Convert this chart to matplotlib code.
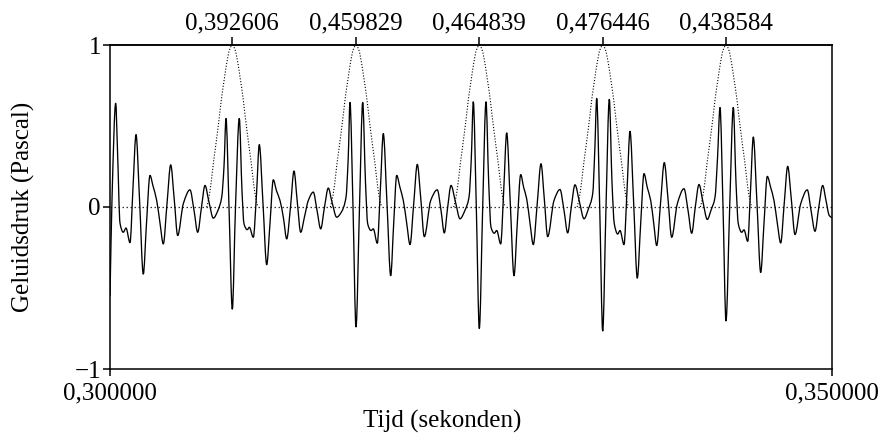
import matplotlib
matplotlib.use('Agg')
import matplotlib.pyplot as plt
from matplotlib.path import Path
from matplotlib.patches import PathPatch
import numpy as np

plt.rcParams['font.family'] = ['Liberation Serif', 'DejaVu Serif']

# waveform samples: time in ms after 0.300 s, pressure in Pascal
seg0_ms = [0.000, 0.139, 0.395, 0.519, 0.693, 0.921, 1.108, 1.385, 1.593, 1.801, 2.043, 2.306,
           2.528, 2.770, 2.978, 3.234, 3.463, 3.691, 3.947, 4.204, 4.446, 4.688, 5.076, 5.540,
           5.817, 6.073, 6.337, 6.579, 6.856, 7.154, 7.479, 7.735, 7.895, 8.033]
seg0_pa = [-0.55, 0.05, 0.64, 0.35, -0.10, -0.156, -0.13, -0.22, 0.12, 0.447, 0.05, -0.414,
           -0.10, 0.195, 0.13, 0.04, -0.10, -0.228, 0.02, 0.26, 0.05, -0.176, 0.02, 0.106,
           -0.02, -0.156, 0.00, 0.133, 0.03, -0.069, -0.02, 0.06, 0.25, 0.546]

seg1_ms = [8.241, 8.470, 8.691, 8.954, 9.141, 9.280, 9.508, 9.647, 9.924, 10.145, 10.339, 10.596,
           10.852, 11.080, 11.309, 11.530, 11.773, 12.015, 12.237, 12.500, 12.742, 12.971, 13.206,
           13.470, 13.733, 14.079, 14.335, 14.591, 14.855, 15.118, 15.374, 15.699, 16.032, 16.343,
           16.496, 16.620]
seg1_pa = [0.00, -0.63, 0.00, 0.546, 0.10, -0.104, -0.14, -0.125, -0.187, 0.08, 0.385, 0.02,
           -0.356, -0.10, 0.168, 0.10, 0.04, -0.07, -0.197, 0.00, 0.222, 0.03, -0.156,
           -0.06, 0.04, 0.092, -0.02, -0.135, 0.00, 0.117, 0.03, -0.063, -0.03, 0.06,
           0.30, 0.645]

seg2_ms = [16.828, 17.036, 17.278, 17.500, 17.694, 17.846, 18.075, 18.234, 18.511, 18.719, 18.927,
           19.183, 19.439, 19.647, 19.855, 20.083, 20.312, 20.547, 20.776, 21.032, 21.281, 21.524,
           21.766, 22.209, 22.666, 22.922, 23.151, 23.386, 23.615, 23.927, 24.238, 24.584, 24.861,
           25.021, 25.159]
seg2_pa = [0.00, -0.74, 0.00, 0.645, 0.15, -0.104, -0.145, -0.135, -0.224, 0.10, 0.453,
           0.02, -0.424, -0.10, 0.195, 0.12, 0.04, -0.10, -0.232, 0.02, 0.263, 0.05,
           -0.183, 0.04, 0.106, -0.02, -0.16, 0.00, 0.133, 0.03, -0.073, -0.02, 0.06,
           0.30, 0.649]

seg3_ms = [25.367, 25.575, 25.810, 26.039, 26.226, 26.385, 26.614, 26.780, 27.057, 27.264, 27.472,
           27.722, 27.978, 28.206, 28.442, 28.649, 28.857, 29.086, 29.314, 29.585, 29.847, 30.076,
           30.311, 30.748, 31.163, 31.440, 31.696, 31.946, 32.202, 32.514, 32.826, 33.137, 33.428,
           33.573, 33.705]
seg3_pa = [0.00, -0.75, 0.00, 0.649, 0.15, -0.125, -0.162, -0.145, -0.228, 0.10, 0.457,
           0.02, -0.424, -0.10, 0.20, 0.12, 0.05, -0.10, -0.232, 0.02, 0.267, 0.05,
           -0.183, 0.04, 0.108, -0.02, -0.16, 0.00, 0.137, 0.03, -0.073, -0.01, 0.082,
           0.35, 0.67]

seg4_ms = [33.913, 34.120, 34.349, 34.578, 34.765, 34.924, 35.159, 35.318, 35.596, 35.803, 36.011,
           36.267, 36.516, 36.752, 36.981, 37.209, 37.445, 37.652, 37.860, 38.123, 38.386, 38.643,
           38.899, 39.287, 39.751, 40.028, 40.284, 40.533, 40.789, 41.066, 41.364, 41.621, 41.898,
           42.071, 42.244]
seg4_pa = [0.00, -0.765, 0.00, 0.664, 0.15, -0.104, -0.167, -0.145, -0.232, 0.10, 0.467,
           0.02, -0.439, -0.10, 0.206, 0.12, 0.04, -0.10, -0.238, 0.02, 0.274, 0.05,
           -0.187, 0.02, 0.113, -0.02, -0.162, 0.00, 0.139, 0.03, -0.077, -0.02, 0.06,
           0.30, 0.614]

seg5_ms = [42.452, 42.659, 42.915, 43.165, 43.352, 43.511, 43.747, 43.906, 44.162, 44.356, 44.550,
           44.806, 45.062, 45.291, 45.520, 45.755, 45.983, 46.212, 46.447, 46.690, 46.932, 47.181,
           47.438, 47.833, 48.289, 48.546, 48.823, 49.086, 49.356, 49.584, 49.812, 50.000]
seg5_pa = [0.00, -0.703, 0.00, 0.614, 0.15, -0.104, -0.156, -0.141, -0.212, 0.10, 0.432,
           0.02, -0.404, -0.10, 0.189, 0.12, 0.04, -0.10, -0.222, 0.02, 0.251, 0.05,
           -0.17, 0.02, 0.106, -0.02, -0.15, 0.00, 0.133, 0.04, -0.053, -0.067]

# pulse centres (s) and their labels
pulse_centers_s = [0.308470, 0.317036, 0.325575, 0.334121, 0.342659]
pulse_labels = ['0,392606', '0,459829', '0,464839', '0,476446', '0,438584']

# window shape around each pulse: offset (ms) and height
window_offset_ms = [-1.773, -1.662, -1.544, -1.454, -1.316, -1.177, -1.011, -0.873, -0.734,
                    -0.554, -0.388, -0.194, 0.0, 0.194, 0.388, 0.554, 0.734, 0.873, 1.011,
                    1.177, 1.316, 1.454, 1.544, 1.662, 1.773]
window_value = [0.0, 0.04, 0.10, 0.16, 0.267, 0.36, 0.474, 0.575, 0.68, 0.79, 0.887, 0.97, 1.0,
                0.97, 0.887, 0.79, 0.68, 0.575, 0.474, 0.36, 0.267, 0.16, 0.10, 0.04, 0.0]

x_ticks = [0.300, 0.350]
x_tick_labels = ['0,300000', '0,350000']
y_ticks = [-1, 0, 1]
y_tick_labels = ['\u22121', '0', '1']


def smooth_path(x, y):
    """Cubic Bezier path through the read points (monotone Hermite tangents:
    flat at every read extremum, no overshoot)."""
    x = np.asarray(x, float)
    y = np.asarray(y, float)
    h = np.diff(x)
    d = np.diff(y) / h
    m = np.zeros_like(y)
    for i in range(1, len(y) - 1):
        if d[i - 1] * d[i] > 0:
            w1 = 2 * h[i] + h[i - 1]
            w2 = h[i] + 2 * h[i - 1]
            m[i] = (w1 + w2) / (w1 / d[i - 1] + w2 / d[i])
    m[0] = d[0]
    m[-1] = d[-1]
    verts = [(x[0], y[0])]
    codes = [Path.MOVETO]
    for i in range(len(x) - 1):
        verts += [(x[i] + h[i] / 3, y[i] + m[i] * h[i] / 3),
                  (x[i + 1] - h[i] / 3, y[i + 1] - m[i + 1] * h[i] / 3),
                  (x[i + 1], y[i + 1])]
        codes += [Path.CURVE4] * 3
    return Path(verts, codes)


W, H = 883, 437
fig = plt.figure(figsize=(W / 100, H / 100), dpi=100)
ax = fig.add_axes([110 / W, 1 - 369 / H, 722 / W, 324 / H])

wave_ms = np.concatenate([seg0_ms, seg1_ms, seg2_ms, seg3_ms, seg4_ms, seg5_ms])
wave_pa = np.concatenate([seg0_pa, seg1_pa, seg2_pa, seg3_pa, seg4_pa, seg5_pa])
t = 0.300 + wave_ms / 1000.0

ax.axhline(0, color='#333333', lw=0.9, ls=(0, (1.2, 2.0)), zorder=1)
for c in pulse_centers_s:
    wt = c + np.array(window_offset_ms) / 1000.0
    ax.add_patch(PathPatch(smooth_path(wt, window_value), fill=False, edgecolor='black',
                           lw=0.8, ls=(0, (1.0, 1.6)), zorder=2))
ax.add_patch(PathPatch(smooth_path(t, wave_pa), fill=False, edgecolor='black',
                       lw=0.95, joinstyle='round', zorder=3))

ax.set_xlim(0.300, 0.350)
ax.set_ylim(-1, 1)
ax.set_xticks(x_ticks, x_tick_labels)
ax.set_yticks(y_ticks, y_tick_labels)
ax.tick_params(direction='out', length=5, width=1.1, labelsize=18, pad=2)
ax.tick_params(axis='x', pad=4.5)
ax.tick_params(axis='y', pad=1.5)
for s in ax.spines.values():
    s.set_linewidth(1.1)

sec = ax.secondary_xaxis('top')
sec.set_xticks(pulse_centers_s, pulse_labels)
sec.tick_params(direction='out', length=5.5, width=1.1, labelsize=18, pad=2)
sec.spines['top'].set_linewidth(1.1)

fig.text(442 / W, 1 - 421 / H, 'Tijd (sekonden)', ha='center', va='center', fontsize=18)
fig.text(23 / W, 1 - 207 / H, 'Geluidsdruk (Pascal)', ha='center', va='center',
         rotation=90, fontsize=18)

fig.savefig('out.png', dpi=100)
